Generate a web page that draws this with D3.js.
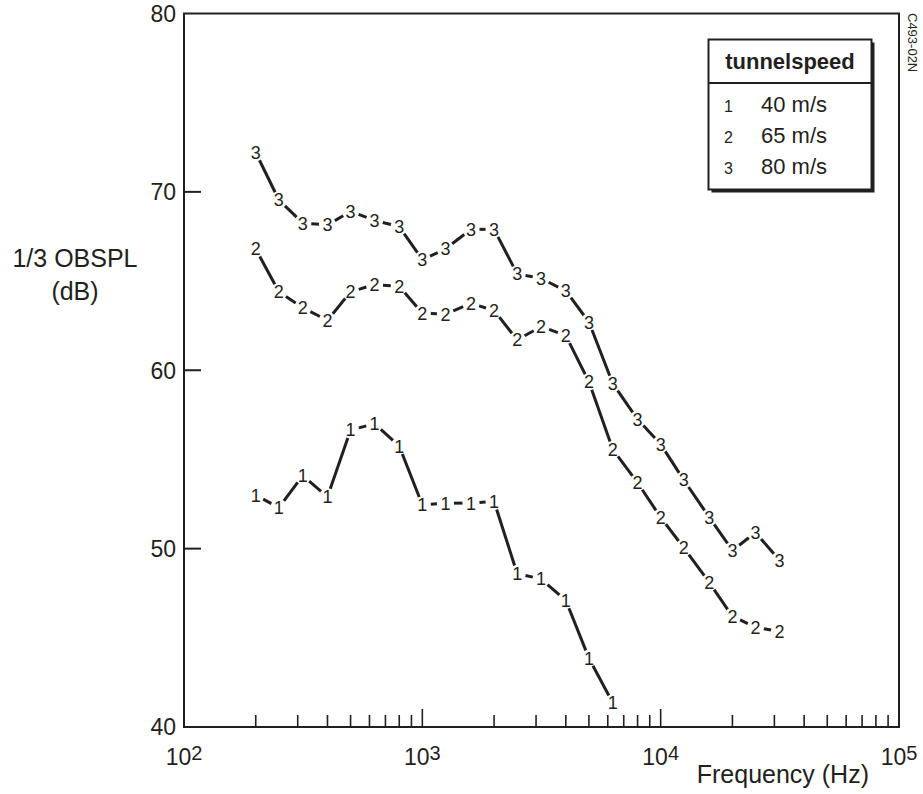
<!DOCTYPE html>
<html>
<head>
<meta charset="utf-8">
<script src="https://cdn.jsdelivr.net/npm/d3@7"></script>
<style>
  html, body { margin: 0; padding: 0; background: #fff; }
  svg { display: block; font-family: "Liberation Sans", Arial, Helvetica, sans-serif; }
</style>
</head>
<body>
<svg id="chart" width="923" height="794"></svg>
<script>
// ---- data ----
const freqs = [200, 250, 315, 400, 500, 630, 800, 1000, 1250, 1600, 2000, 2500, 3150, 4000, 5000, 6300, 8000, 10000, 12500, 16000, 20000, 25000, 31500];
const series1 = [53.0, 52.3, 54.1, 52.9, 56.65, 57.0, 55.75, 52.45, 52.55, 52.55, 52.65, 48.6, 48.3, 47.1, 43.85, 41.35];
const series2 = [66.8, 64.4, 63.5, 62.8, 64.4, 64.8, 64.7, 63.2, 63.15, 63.75, 63.35, 61.7, 62.45, 61.95, 59.35, 55.55, 53.7, 51.75, 50.05, 48.1, 46.2, 45.6, 45.35];
const series3 = [72.2, 69.55, 68.25, 68.15, 68.9, 68.4, 68.05, 66.2, 66.8, 67.9, 67.9, 65.4, 65.15, 64.45, 62.7, 59.25, 57.25, 55.85, 53.85, 51.75, 49.9, 50.9, 49.35];
const seriesIds = ["1", "2", "3"];
const seriesNames = ["40 m/s", "65 m/s", "80 m/s"];
const legendTitle = "tunnelspeed";
const yTicks = [40, 50, 60, 70, 80];
const xDecades = [2, 3, 4, 5];
const xTitle = "Frequency (Hz)";
const yTitle = ["1/3 OBSPL", "(dB)"];
const figId = "C493-02N";

// ---- layout ----
const ink = "#231f20";
const plotL = 184, plotR = 899, plotT = 13.5, plotB = 727;
const svg = d3.select("#chart");

const x = d3.scaleLog().domain([100, 100000]).range([plotL, plotR]);
const y = d3.scaleLinear().domain([40, 80]).range([plotB, plotT]);

// frame
svg.append("rect")
  .attr("x", plotL).attr("y", plotT)
  .attr("width", plotR - plotL).attr("height", plotB - plotT)
  .attr("fill", "none").attr("stroke", ink).attr("stroke-width", 2);

// x minor / major ticks (inward)
const xTickVals = [];
for (let d = 2; d < 5; d++) {
  for (let m = 1; m <= 9; m++) {
    const v = m * Math.pow(10, d);
    if (v === 100) continue;
    xTickVals.push(v);
  }
}
svg.append("g").selectAll("line").data(xTickVals).join("line")
  .attr("x1", d => x(d)).attr("x2", d => x(d))
  .attr("y1", plotB)
  .attr("y2", d => {
    const isMajor = Math.abs(Math.log10(d) - Math.round(Math.log10(d))) < 1e-9;
    return plotB - (isMajor ? 18 : 12);
  })
  .attr("stroke", ink).attr("stroke-width", 1.6);

// y ticks (inward)
svg.append("g").selectAll("line").data(yTicks.filter(v => v > 40 && v < 80)).join("line")
  .attr("x1", plotL).attr("x2", plotL + 17)
  .attr("y1", d => y(d)).attr("y2", d => y(d))
  .attr("stroke", ink).attr("stroke-width", 2);

// y tick labels
svg.append("g").selectAll("text").data(yTicks).join("text")
  .attr("x", 176).attr("y", d => y(d))
  .attr("dy", "0.36em")
  .attr("text-anchor", "end")
  .attr("font-size", 23).attr("fill", ink)
  .text(d => d);

// x tick labels 10^n
const xl = svg.append("g").selectAll("text").data(xDecades).join("text")
  .attr("x", d => x(Math.pow(10, d)))
  .attr("y", 765)
  .attr("text-anchor", "middle")
  .attr("font-size", 23).attr("fill", ink);
xl.append("tspan").text("10");
xl.append("tspan").attr("font-size", 20).attr("dy", -5).text(d => d);

// axis titles
svg.append("text").attr("x", 869).attr("y", 783)
  .attr("text-anchor", "end").attr("font-size", 25).attr("fill", ink)
  .text(xTitle);
svg.append("g").selectAll("text").data(yTitle).join("text")
  .attr("x", 75).attr("y", (d, i) => 267 + i * 33)
  .attr("text-anchor", "middle").attr("font-size", 25).attr("fill", ink)
  .text(d => d);

// figure id rotated
svg.append("text")
  .attr("transform", "translate(908,13) rotate(90)")
  .attr("font-size", 13).attr("fill", ink)
  .text(figId);

// ---- series ----
const allSeries = [series1, series2, series3];
const gap = 8.5;
allSeries.forEach((vals, si) => {
  const pts = vals.map((v, i) => [x(freqs[i]), y(v)]);
  const segs = [];
  for (let i = 0; i < pts.length - 1; i++) {
    const [x1, y1] = pts[i], [x2, y2] = pts[i + 1];
    const dx = x2 - x1, dy = y2 - y1, L = Math.hypot(dx, dy);
    if (L <= 2 * gap) continue;
    const ux = dx / L, uy = dy / L;
    segs.push([x1 + ux * gap, y1 + uy * gap, x2 - ux * gap, y2 - uy * gap]);
  }
  const g = svg.append("g");
  g.selectAll("line").data(segs).join("line")
    .attr("x1", d => d[0]).attr("y1", d => d[1])
    .attr("x2", d => d[2]).attr("y2", d => d[3])
    .attr("stroke", ink).attr("stroke-width", 3);
  g.selectAll("text").data(pts).join("text")
    .attr("x", d => d[0]).attr("y", d => d[1])
    .attr("dy", "0.36em")
    .attr("text-anchor", "middle")
    .attr("font-size", 18).attr("fill", ink)
    .text(seriesIds[si]);
});

// ---- legend ----
const lg = svg.append("g");
const lx = 708.5, ly = 39.5, lw = 163, lh = 150;
lg.append("rect").attr("x", lx + 3).attr("y", ly + 3).attr("width", lw).attr("height", lh).attr("fill", ink);
lg.append("rect").attr("x", lx).attr("y", ly).attr("width", lw).attr("height", lh)
  .attr("fill", "#fff").attr("stroke", ink).attr("stroke-width", 2);
lg.append("line").attr("x1", lx).attr("x2", lx + lw).attr("y1", 83).attr("y2", 83)
  .attr("stroke", ink).attr("stroke-width", 2);
lg.append("text").attr("x", lx + lw / 2).attr("y", 68.5)
  .attr("text-anchor", "middle").attr("font-size", 22).attr("font-weight", "bold").attr("fill", ink)
  .text(legendTitle);
const rowsY = [111.5, 143, 174];
lg.selectAll("text.id").data(seriesIds).join("text").attr("class", "id")
  .attr("x", 728.5).attr("y", (d, i) => rowsY[i])
  .attr("text-anchor", "middle").attr("font-size", 16).attr("fill", ink)
  .text(d => d);
lg.selectAll("text.nm").data(seriesNames).join("text").attr("class", "nm")
  .attr("x", 761).attr("y", (d, i) => rowsY[i])
  .attr("font-size", 22).attr("fill", ink)
  .text(d => d);
</script>
</body>
</html>
